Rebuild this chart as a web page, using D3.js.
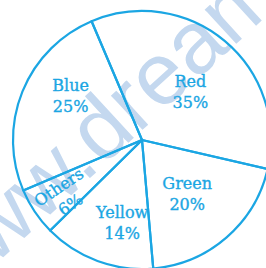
<!DOCTYPE html>
<html>
<head>
<meta charset="utf-8">
<script src="https://cdn.jsdelivr.net/npm/d3@7"></script>
<style>
  html, body { margin: 0; padding: 0; background: #fff; }
  svg { display: block; }
</style>
</head>
<body>
<main></main>
<script>
// data
const categories = ["Red", "Green", "Yellow", "Others", "Blue"];
const percents = [35, 20, 14, 6, 25];
const watermark = "www.dream";

const WIDTH = 266, HEIGHT = 268;
const CX = 142, CY = 140, R = 129;
const LINE = "#1ba6e3";

// label placement: radius as a fraction of R, angle nudge in degrees
const labelStyle = {
    Red:    { r: 0.53, da: 5 },
    Green:  { r: 0.545, da: 1 },
    Yellow: { r: 0.66, da: -6.7 },
    Others: { r: 0.74, da: -2, rot: -34 },
    Blue:   { r: 0.65, da: 9.6 }
};

const svg = d3.select("main")
    .append("svg")
    .attr("width", WIDTH)
    .attr("height", HEIGHT);

svg.append("rect")
    .attr("width", WIDTH)
    .attr("height", HEIGHT)
    .attr("fill", "#fff");

// faint watermark behind the drawing
svg.append("text")
    .attr("transform", "translate(-53,309) rotate(-42.5)")
    .attr("font-family", "Liberation Sans, Arial, sans-serif")
    .attr("font-size", 88)
    .attr("fill", "#c4d8ef")
    .text(watermark);

const data = categories.map((c, i) => ({ name: c, value: percents[i] }));

const toRad = deg => deg * Math.PI / 180;

const pie = d3.pie()
    .value(d => d.value)
    .sort(null)
    .startAngle(toRad(-23))
    .endAngle(toRad(337));

const arcs = pie(data);

const arc = d3.arc()
    .innerRadius(0)
    .outerRadius(R);

const pane = svg.append("g")
    .attr("transform", `translate(${CX},${CY})`);

pane.selectAll("path.slice")
    .data(arcs)
    .enter()
    .append("path")
    .attr("class", "slice")
    .attr("d", arc)
    .attr("fill", "none")
    .attr("stroke", LINE)
    .attr("stroke-width", 2.2)
    .attr("stroke-linejoin", "round");

const label = pane.selectAll("g.label")
    .data(arcs)
    .enter()
    .append("g")
    .attr("class", "label")
    .attr("transform", function (d) {
        const s = labelStyle[d.data.name];
        const a = (d.startAngle + d.endAngle) / 2 + toRad(s.da);
        const x = Math.sin(a) * s.r * R;
        const y = -Math.cos(a) * s.r * R;
        return `translate(${x},${y}) rotate(${s.rot || 0})`;
    });

const txt = label.append("text")
    .attr("text-anchor", "middle")
    .attr("font-family", "DejaVu Serif, serif")
    .attr("font-size", 16)
    .attr("fill", LINE)
    .attr("stroke", LINE)
    .attr("stroke-width", 0.35);

txt.append("tspan")
    .attr("x", 0)
    .attr("y", -10.5)
    .attr("dy", "0.35em")
    .text(d => d.data.name);

txt.append("tspan")
    .attr("x", 0)
    .attr("y", 10.5)
    .attr("dy", "0.35em")
    .text(d => d.data.value + "%");
</script>
</body>
</html>
